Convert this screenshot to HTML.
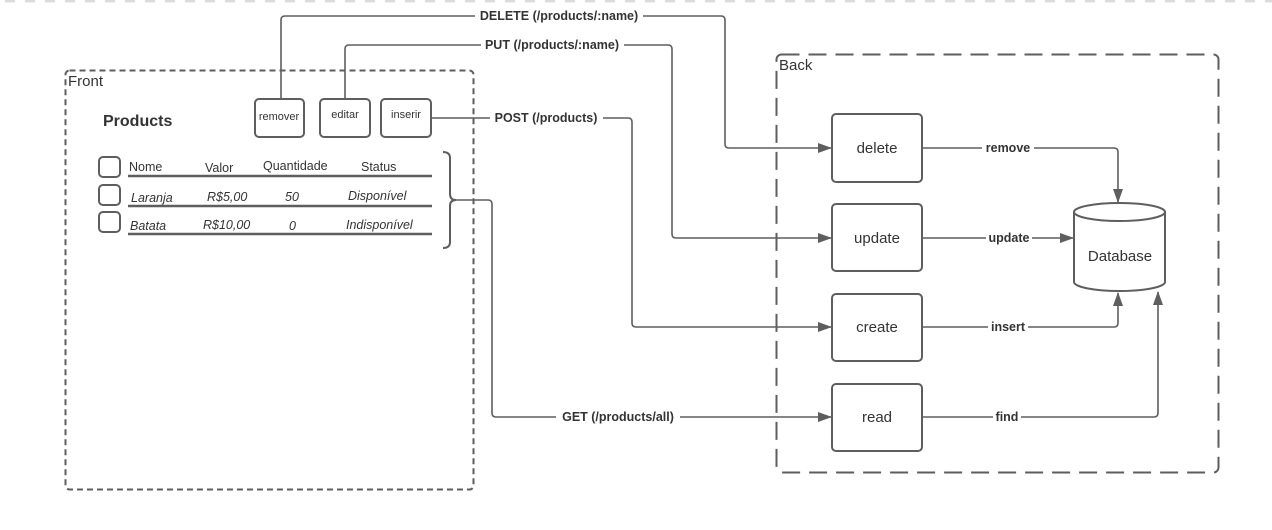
<!DOCTYPE html>
<html><head><meta charset="utf-8"><style>
html,body{margin:0;padding:0;background:#fff;}
svg{display:block;font-family:"Liberation Sans",Arial,sans-serif;}
</style></head><body>
<svg width="1272" height="530" viewBox="0 0 1272 530" xmlns="http://www.w3.org/2000/svg">
<defs>
<marker id="a" markerWidth="14" markerHeight="12" refX="13" refY="6" orient="auto" markerUnits="userSpaceOnUse">
<path d="M0,1 L14,6 L0,11 z" fill="#5e5e5e"/></marker>
</defs>
<line x1="5" y1="1" x2="1272" y2="1" stroke="#dcdcdc" stroke-width="3" stroke-dasharray="10 10"/>
<!-- Front -->
<rect x="65.5" y="70.5" width="408" height="419" rx="4" fill="none" stroke="#5e5e5e" stroke-width="2" stroke-dasharray="6 4"/>
<text x="68" y="86" font-size="15" fill="#333">Front</text>
<text x="103" y="126" font-size="16" font-weight="bold" fill="#333">Products</text>
<g fill="#fff" stroke="#5e5e5e" stroke-width="2">
<rect x="255" y="99" width="49" height="38" rx="4"/>
<rect x="320" y="99" width="50" height="38" rx="4"/>
<rect x="381" y="99" width="50" height="38" rx="4"/>
<rect x="99" y="157" width="21" height="20" rx="4"/>
<rect x="99" y="185" width="21" height="20" rx="4"/>
<rect x="99" y="212" width="21" height="20" rx="4"/>
</g>
<g font-size="11" fill="#333" text-anchor="middle">
<text x="279" y="120">remover</text>
<text x="345" y="118">editar</text>
<text x="406" y="118">inserir</text>
</g>
<g font-size="12.5" fill="#333">
<text x="129" y="171">Nome</text><text x="205" y="172">Valor</text><text x="263" y="170">Quantidade</text><text x="361" y="171">Status</text>
<g font-style="italic"><text x="131" y="202">Laranja</text><text x="207" y="201">R$5,00</text><text x="285" y="201">50</text><text x="348" y="200">Disponível</text>
<text x="130" y="230">Batata</text><text x="203" y="229">R$10,00</text><text x="289" y="230">0</text><text x="346" y="229">Indisponível</text></g>
</g>
<g stroke="#5e5e5e" stroke-width="2.5"><line x1="128" y1="176" x2="432" y2="176"/><line x1="128" y1="206" x2="432" y2="206"/><line x1="128" y1="234" x2="432" y2="234"/></g>
<path d="M443,152 Q450,152 450,158 L450,194 Q450,200 456,200 Q450,200 450,206 L450,242 Q450,248 443,248" fill="none" stroke="#5e5e5e" stroke-width="2"/>
<!-- Back -->
<rect x="776.5" y="54.5" width="442" height="418" rx="5" fill="none" stroke="#5e5e5e" stroke-width="2" stroke-dasharray="18 9"/>
<text x="779" y="70" font-size="15" fill="#333">Back</text>
<g fill="#fff" stroke="#5e5e5e" stroke-width="2">
<rect x="832" y="114" width="90" height="68" rx="4"/>
<rect x="832" y="204" width="90" height="67" rx="4"/>
<rect x="832" y="294" width="90" height="67" rx="4"/>
<rect x="832" y="384" width="90" height="67" rx="4"/>
</g>
<g font-size="15" fill="#333" text-anchor="middle">
<text x="877" y="153">delete</text><text x="877" y="243">update</text><text x="877" y="332">create</text><text x="877" y="422">read</text>
</g>
<path d="M1074,212 L1074,282 A45.5,9 0 0 0 1165,282 L1165,212" fill="#fff" stroke="#5e5e5e" stroke-width="2"/>
<ellipse cx="1119.5" cy="212" rx="45.5" ry="9" fill="#fff" stroke="#5e5e5e" stroke-width="2"/>
<text x="1120" y="261" font-size="15" fill="#333" text-anchor="middle">Database</text>
<!-- connectors -->
<g fill="none" stroke="#5e5e5e" stroke-width="1.6">
<path d="M281,98 L281,20 Q281,16 285,16 L721,16 Q725,16 725,20 L725,144 Q725,148 729,148 L831,148" marker-end="url(#a)"/>
<path d="M345,98 L345,49 Q345,45 349,45 L668,45 Q672,45 672,49 L672,234 Q672,238 676,238 L831,238" marker-end="url(#a)"/>
<path d="M431,118 L628,118 Q632,118 632,122 L632,323 Q632,327 636,327 L831,327" marker-end="url(#a)"/>
<path d="M456,200 L488,200 Q492,200 492,204 L492,413 Q492,417 496,417 L831,417" marker-end="url(#a)"/>
<path d="M922,148 L1114,148 Q1118,148 1118,152 L1118,202" marker-end="url(#a)"/>
<path d="M922,238 L1073,238" marker-end="url(#a)"/>
<path d="M922,327 L1114,327 Q1118,327 1118,323 L1118,293" marker-end="url(#a)"/>
<path d="M922,417 L1154,417 Q1158,417 1158,413 L1158,292" marker-end="url(#a)"/>
</g>
<g font-size="12.5" font-weight="bold" fill="#333" text-anchor="middle">
<rect x="475" y="8" width="168" height="15" fill="#fff"/><text x="559" y="20">DELETE (/products/:name)</text>
<rect x="481" y="37" width="143" height="15" fill="#fff"/><text x="552" y="49">PUT (/products/:name)</text>
<rect x="490" y="110" width="113" height="15" fill="#fff"/><text x="546" y="122">POST (/products)</text>
<rect x="556" y="409" width="124" height="15" fill="#fff"/><text x="618" y="421">GET (/products/all)</text>
<rect x="982" y="140" width="52" height="15" fill="#fff"/><text x="1008" y="152">remove</text>
<rect x="986" y="230" width="46" height="15" fill="#fff"/><text x="1009" y="242">update</text>
<rect x="988" y="319" width="40" height="15" fill="#fff"/><text x="1008" y="331">insert</text>
<rect x="993" y="409" width="28" height="15" fill="#fff"/><text x="1007" y="421">find</text>
</g>
</svg>
</body></html>
